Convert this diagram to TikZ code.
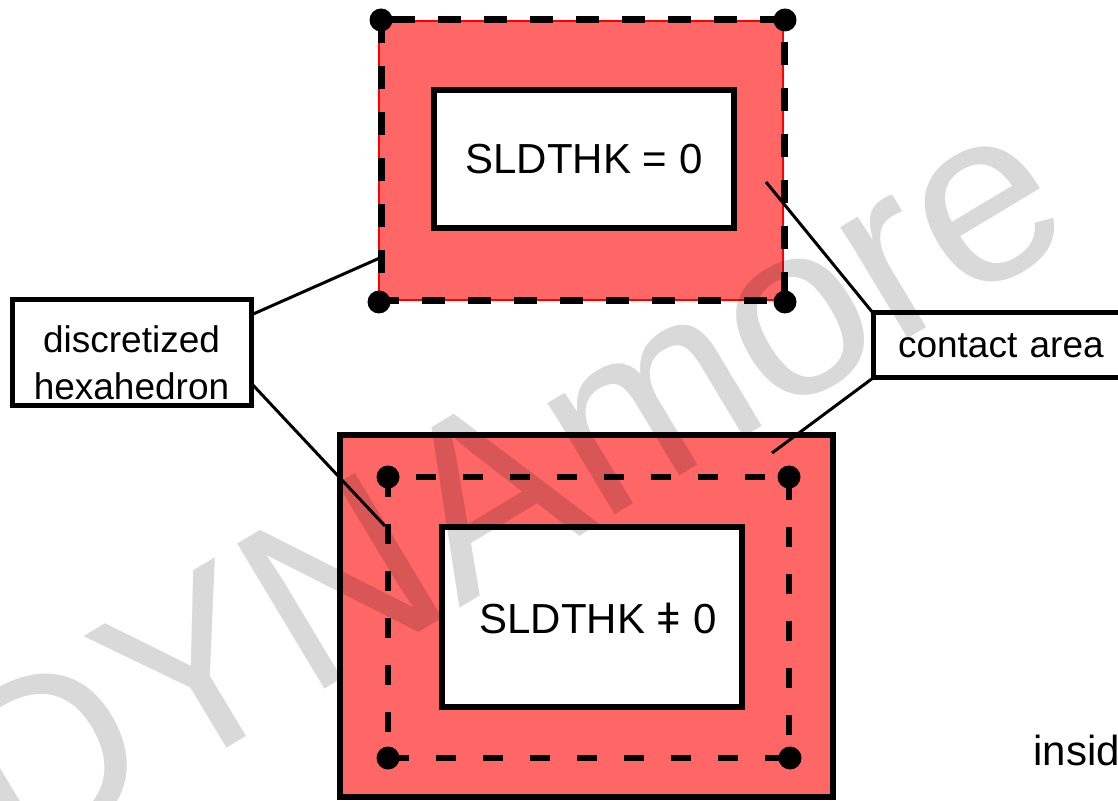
\documentclass[tikz,border=0pt]{standalone}
\usepackage{fontspec}
\setmainfont{Liberation Sans}
\usepackage{xcolor}
\definecolor{cpink}{HTML}{FF6666}
\tikzset{
  wbox/.style  = {draw, line width=3pt, fill=white, inner sep=0pt},
  lbox/.style  = {draw, line width=2.5pt, fill=white, outer sep=0pt,
                  font=\fontsize{18.5}{23.5}\selectfont},
  vtx/.style   = {fill, circle, inner sep=0pt, minimum size=11.5pt},
  lead/.style  = {line width=1.5pt},
  wmark/.style = {font=\fontsize{123}{130}\selectfont, text=black,
                  text opacity=0.15, inner sep=0pt},
}
\begin{document}
\begin{tikzpicture}[x=0.5pt, y=-0.5pt, font=\fontsize{21}{23.5}\selectfont]
\useasboundingbox (0,0) rectangle (1118,801);
\clip (0,0) rectangle (1118,801);
% ---------- shell without thickness ----------
\fill[cpink] (379,21) rectangle (783,300);
\draw[red, line width=0.6pt] (379,21) rectangle (783,300);
\node[wbox, minimum width=150pt, minimum height=69pt] (thin) at (584,159) {SLDTHK = 0};
\draw[line width=3.5pt, dash pattern=on 11.5pt off 11.5pt] (381,20) rectangle (784,301);
\foreach \p in {(381,20),(785,20),(379,302),(785,302)}
  \node[vtx] at \p {};
% ---------- shell with thickness ----------
\draw[line width=3pt, fill=cpink] (340,435) rectangle (833,797);
\node[wbox, minimum width=150pt, minimum height=90pt] (thick) at (592,617) {};
\node[anchor=base, inner sep=0pt] (thicktext) at (598,633) {SLDTHK ǂ 0};
\draw[line width=3.25pt, dash pattern=on 10pt off 13.5pt] (388,477) rectangle (789,758);
\foreach \p in {(388,477),(789,477),(388,758),(790,758)}
  \node[vtx] at \p {};
% ---------- labels ----------
\node[lbox, minimum width=119.5pt, minimum height=53pt] (hexa) at (131.5,353) {};
\node[align=center, inner sep=0pt, font=\fontsize{18.5}{23.5}\selectfont]
  (hexatext) at (131.5,363) {discretized\\hexahedron};
\node[lbox, anchor=north west, minimum height=32.5pt, text width=125pt,
      inner xsep=12.5pt] (contact) at (873,313) {contact area};
\node[anchor=base west, inner sep=0pt] (inside) at (1033,765) {insid};
% leader lines
\coordinate (tipA) at (382,257);
\coordinate (tipB) at (385,526);
\coordinate (tipC) at (766,182);
\coordinate (tipD) at (772,453);
\draw[lead] (hexa.north east) ++(0,15) -- (tipA);
\draw[lead] (hexa.south east) ++(0,-23) -- (tipB);
\draw[lead] (contact.north west) -- (tipC);
\draw[lead] (contact.south west) -- (tipD);
% watermark
\node[wmark, rotate=31, anchor=base west] (logo) at (14,876) {DYNAmore};
\end{tikzpicture}
\end{document}
